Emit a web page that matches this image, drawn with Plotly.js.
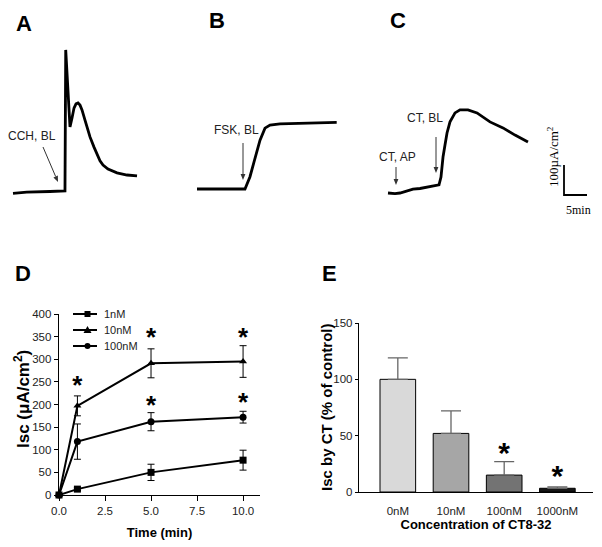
<!DOCTYPE html>
<html><head><meta charset="utf-8">
<script src="https://cdn.plot.ly/plotly-3.0.1.min.js"></script>
<style>body{margin:0;padding:0;background:#fff}#chart{width:602px;height:547px}</style>
</head><body><div id="chart"></div>
<script>
// ---- Recordings (time in min, Isc in µA/cm2, relative to each baseline) ----
const traceA_t = [0, 3.0, 8.0, 11.3, 11.46, 12.39, 12.83, 13.26, 13.70, 14.13, 14.57, 15.0, 15.65, 16.30, 16.74, 17.61, 18.26, 18.91, 19.57, 20.65, 22.61, 24.78, 26.96];
const traceA_v = [-1, 3, 5, 7, 477, 220, 250, 283, 297, 300, 293, 277, 243, 210, 187, 153, 127, 107, 93, 80, 67, 60, 57];
const traceB_t = [0, 10.43, 11.52, 12.61, 13.70, 14.78, 15.87, 18.04, 22.39, 30.37];
const traceB_v = [0, 0, 41, 103, 163, 203, 213, 217, 219, 222];
const traceC_t = [0, 1.52, 2.61, 3.70, 5.43, 6.96, 8.48, 9.78, 11.09, 11.52, 11.96, 12.39, 12.83, 13.48, 14.57, 15.65, 17.39, 19.35, 22.17, 25.0, 27.61, 30.43];
const traceC_v = [0, -2, 0, 5, 13, 15, 20, 23, 27, 53, 120, 160, 200, 237, 267, 277, 277, 267, 237, 217, 193, 170];
const scaleBarMin = 5;      // minutes
const scaleBarCur = 100;    // µA/cm2

// ---- Panel D ----
const timeD = [0, 1, 5, 10];
const seriesNames = ['1nM', '10nM', '100nM'];
const d1nM = [0, 13, 50, 77];
const d1nM_err = [0, 3, 18, 22];
const d10nM = [0, 197, 291, 295];
const d10nM_err = [0, 22, 32, 35];
const d100nM = [0, 118, 162, 172];
const d100nM_err = [0, 39, 20, 13];
const starD_t = [1, 5, 10, 5, 10];
const starD_y = [238, 344, 344, 194, 199];

// ---- Panel E ----
const concE = ['0nM', '10nM', '100nM', '1000nM'];
const pctE = [100, 52, 15, 3.3];
const pctE_err = [19, 20, 12, 1.2];
const starE_x = ['100nM', '1000nM'];
const starE_y = [32, 12];

// ---- layout helpers ----
const W = 602, H = 547;
const px = x => x / W, py = y => 1 - y / H;
const KX = 4.6, KY = 0.3; // px per minute, px per µA/cm2 in recordings
function recAxes(ox, oy, x0, x1, y0, y1) {
  return {
    x: {domain: [px(x0), px(x1)], range: [(x0 - ox) / KX, (x1 - ox) / KX], visible: false, showgrid: false, zeroline: false},
    y: {domain: [py(y1), py(y0)], range: [(oy - y1) / KY, (oy - y0) / KY], visible: false, showgrid: false, zeroline: false}
  };
}
const aA = recAxes(13, 193, 5, 150, 40, 205);
const aB = recAxes(197, 189, 185, 345, 40, 205);
const aC = recAxes(388, 193, 375, 597, 40, 215);
aA.x.anchor = 'y3'; aA.y.anchor = 'x3';
aB.x.anchor = 'y4'; aB.y.anchor = 'x4';
aC.x.anchor = 'y5'; aC.y.anchor = 'x5';

const SANS = 'Liberation Sans, Arial, sans-serif';
const SERIF = 'Liberation Serif, Times New Roman, serif';

const recLine = {color: '#000', width: 2.8};
const sb0t = (564 - 388) / KX, sb0v = (193 - 195) / KY;

const traces = [
  {x: traceA_t, y: traceA_v, xaxis: 'x3', yaxis: 'y3', mode: 'lines', line: recLine, showlegend: false, hoverinfo: 'skip'},
  {x: traceB_t, y: traceB_v, xaxis: 'x4', yaxis: 'y4', mode: 'lines', line: recLine, showlegend: false, hoverinfo: 'skip'},
  {x: traceC_t, y: traceC_v, xaxis: 'x5', yaxis: 'y5', mode: 'lines', line: recLine, showlegend: false, hoverinfo: 'skip'},
  {x: [sb0t, sb0t, sb0t + scaleBarMin], y: [sb0v + scaleBarCur, sb0v, sb0v], xaxis: 'x5', yaxis: 'y5', mode: 'lines',
   line: {color: '#000', width: 1.8}, showlegend: false, hoverinfo: 'skip', cliponaxis: false},
];

const dSeries = [[d1nM, d1nM_err, 'square'], [d10nM, d10nM_err, 'triangle-up'], [d100nM, d100nM_err, 'circle']];
dSeries.forEach((s, i) => {
  traces.push({
    x: timeD, y: s[0], name: seriesNames[i], mode: 'lines+markers', xaxis: 'x', yaxis: 'y', showlegend: false,
    marker: {symbol: s[2], size: 7, color: '#000'}, line: {color: '#000', width: 2},
    error_y: {type: 'data', array: s[1], color: '#000', thickness: 1, width: 3.5},
    cliponaxis: false
  });
});
traces.push({x: starD_t, y: starD_y, mode: 'text', text: starD_t.map(() => '*'), xaxis: 'x', yaxis: 'y',
  textfont: {family: SANS, size: 26, color: '#000', weight: 700}, showlegend: false, hoverinfo: 'skip', cliponaxis: false});

traces.push({
  type: 'bar', x: concE, y: pctE, xaxis: 'x2', yaxis: 'y2', showlegend: false,
  marker: {color: ['#d9d9d9', '#a6a6a6', '#737373', '#151515'], line: {color: '#000', width: 1}},
  error_y: {type: 'data', symmetric: false, array: pctE_err, arrayminus: [0, 0, 0, 0], color: '#666', thickness: 1.3, width: 10}
});
traces.push({x: starE_x, y: starE_y, mode: 'text', text: starE_x.map(() => '*'), xaxis: 'x2', yaxis: 'y2',
  textfont: {family: SANS, size: 30, color: '#000', weight: 700}, showlegend: false, hoverinfo: 'skip', cliponaxis: false});

function ann(text, x, y, size, opts) {
  return Object.assign({text: text, x: px(x), y: py(y), xref: 'paper', yref: 'paper', showarrow: false,
    xanchor: 'center', yanchor: 'middle', font: {family: SANS, size: size, color: '#000'}}, opts || {});
}
const shapes = [];
// thin arrows drawn as a line plus a small filled head
function arrow(hx, hy, tx, ty) {
  const dx = hx - tx, dy = hy - ty, L = Math.hypot(dx, dy), ux = dx / L, uy = dy / L;
  const bx = hx - ux * 6, by = hy - uy * 6, wx = -uy * 2.4, wy = ux * 2.4;
  shapes.push({type: 'line', xref: 'paper', yref: 'paper', x0: px(tx), y0: py(ty), x1: px(bx), y1: py(by),
    line: {color: '#333', width: 1}});
  shapes.push({type: 'path', xref: 'paper', yref: 'paper', fillcolor: '#333', line: {width: 0},
    path: `M ${px(hx)} ${py(hy)} L ${px(bx + wx)} ${py(by + wy)} L ${px(bx - wx)} ${py(by - wy)} Z`});
}
arrow(58, 182, 43, 147); arrow(243, 180, 243, 143); arrow(396, 185, 396, 167); arrow(436, 173, 436, 137);

// legend keys for panel D
const legRows = [314, 330, 346];
const legSym = ['square', 'triangle', 'circle'];
legRows.forEach((yr, i) => {
  shapes.push({type: 'line', xref: 'paper', yref: 'paper', x0: px(73), x1: px(97), y0: py(yr), y1: py(yr), line: {color: '#000', width: 2}});
  if (legSym[i] === 'square') shapes.push({type: 'rect', xref: 'paper', yref: 'paper', x0: px(84.5), x1: px(90.5), y0: py(yr + 3), y1: py(yr - 3), fillcolor: '#000', line: {width: 0}});
  if (legSym[i] === 'circle') shapes.push({type: 'circle', xref: 'paper', yref: 'paper', x0: px(84.5), x1: px(90.5), y0: py(yr + 3), y1: py(yr - 3), fillcolor: '#000', line: {width: 0}});
  if (legSym[i] === 'triangle') shapes.push({type: 'path', xref: 'paper', yref: 'paper', fillcolor: '#000', line: {width: 0},
    path: `M ${px(87.5)} ${py(yr - 4)} L ${px(91.5)} ${py(yr + 3)} L ${px(83.5)} ${py(yr + 3)} Z`});
});

const bold = {family: SANS, size: 22, color: '#000', weight: 700};
const small = {family: SANS, size: 12, color: '#222'};
const annotations = [
  ann('A', 24, 23, 22, {font: bold}), ann('B', 217, 20, 22, {font: bold}), ann('C', 398, 20, 22, {font: bold}),
  ann('D', 23, 273, 22, {font: bold}), ann('E', 329, 273, 22, {font: bold}),
  ann('CCH, BL', 32, 136, 12, {font: small}),
  ann('FSK, BL', 236, 130, 12, {font: small}),
  ann('CT, AP', 397, 157, 12, {font: small}),
  ann('CT, BL', 425, 118, 12, {font: small}),
  ann('100µA/cm<sup>2</sup>', 553, 157, 13, {textangle: -90, font: {family: SERIF, size: 13, color: '#000'}}),
  ann('5min', 578, 210, 12, {font: {family: SERIF, size: 12, color: '#000'}}),
  ann('Isc (μA/cm<sup>2</sup>)', 22, 399, 17, {textangle: -90, font: {family: SANS, size: 17, color: '#000', weight: 700}}),
  ann('Isc by CT (% of control)', 326, 407, 15, {textangle: -90, font: {family: SANS, size: 15, color: '#000', weight: 700}})
];
seriesNames.forEach((n, i) => annotations.push(ann(n, 102, legRows[i], 11, {xanchor: 'left', font: {family: SANS, size: 11, color: '#222'}})));

const tickF = {family: SANS, size: 11.5, color: '#222'};
const layout = {
  width: W, height: H, margin: {l: 0, r: 0, t: 0, b: 0}, paper_bgcolor: '#fff', plot_bgcolor: 'rgba(0,0,0,0)',
  showlegend: false,
  xaxis: {domain: [px(59), px(260)], range: [0, 10.92], anchor: 'y', tickvals: [0, 2.5, 5, 7.5, 10],
    ticktext: ['0.0', '2.5', '5.0', '7.5', '10.0'], ticks: 'outside', ticklen: 5, tickwidth: 1, tickcolor: '#000',
    showline: true, linecolor: '#000', linewidth: 1.3, showgrid: false, zeroline: false, tickfont: tickF,
    title: {text: 'Time (min)', font: {family: SANS, size: 13, weight: 700, color: '#000'}, standoff: 11}},
  yaxis: {domain: [py(495), py(314)], range: [0, 400], anchor: 'x', dtick: 50, ticks: 'outside', ticklen: 4,
    tickcolor: '#000', showline: true, linecolor: '#000', linewidth: 1.3, showgrid: false, zeroline: false, tickfont: tickF},
  xaxis2: {domain: [px(359), px(593)], type: 'category', range: [-0.73, 3.67], anchor: 'y2',
    ticks: 'outside', ticklen: 8, tickcolor: 'rgba(0,0,0,0)', showline: true, linecolor: '#000', linewidth: 1.2,
    showgrid: false, zeroline: false, tickfont: tickF,
    title: {text: 'Concentration of CT8-32', font: {family: SANS, size: 13, weight: 700, color: '#000'}, standoff: 3}},
  yaxis2: {domain: [py(492), py(323)], range: [0, 150], anchor: 'x2', tickvals: [0, 50, 100, 150],
    ticks: 'outside', ticklen: 3, tickcolor: '#000', showline: true, linecolor: '#000', linewidth: 1.2,
    showgrid: false, zeroline: false, tickfont: tickF},
  xaxis3: aA.x, yaxis3: aA.y, xaxis4: aB.x, yaxis4: aB.y, xaxis5: aC.x, yaxis5: aC.y,
  bargap: 0.33,
  shapes: shapes,
  annotations: annotations
};

Plotly.newPlot('chart', traces, layout, {staticPlot: true, displayModeBar: false});
</script>
</body></html>
